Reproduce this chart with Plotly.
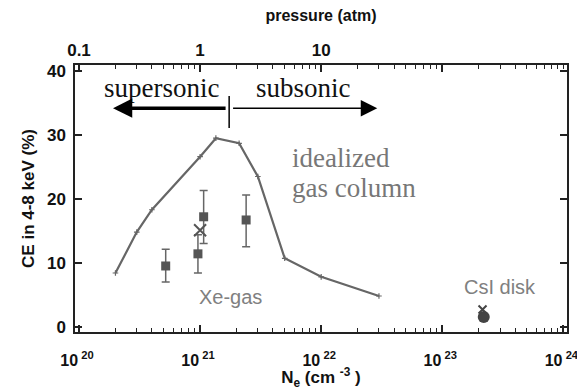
import plotly.graph_objects as go
import numpy as np

# idealized gas column (line)
line_ne = [2e20, 3e20, 4e20, 1e21, 1.35e21, 2.1e21, 3e21, 5e21, 1e22, 3e22]
line_ce = [8.4, 14.8, 18.3, 26.6, 29.5, 28.7, 23.5, 10.7, 7.8, 4.8]

# Xe-gas measurements (squares with error bars)
xe_ne = [5.2e20, 9.6e20, 1.07e21, 2.4e21]
xe_ce = [9.5, 11.4, 17.2, 16.7]
xe_err_plus = [2.6, 3.0, 4.1, 3.9]
xe_err_minus = [2.5, 3.0, 4.2, 4.2]

# X marker
x_ne = [1.0e21]
x_ce = [15.1]

# CsI disk
csi_ne = [2.2e23]
csi_ce = [1.5]
csix_ne = [2.15e23]
csix_ce = [2.7]

# axis ticks
bottom_tickvals = [1e20, 1e21, 1e22, 1e23, 1e24]
bottom_ticktext = ["<b>10</b>\u2009<sup><b>%d</b></sup>" % e for e in (20, 21, 22, 23, 24)]
top_tickvals = [0.1, 1, 10, 100]
top_ticktext = ["<b>0.1</b>", "<b>1</b>", "<b>10</b>", ""]
y_tickvals = [0, 10, 20, 30, 40]

XMIN, XMAX = 19.967, 24.03
FONT = "Liberation Sans, Arial, sans-serif"
SERIF = "Liberation Serif, Times New Roman, serif"

fig = go.Figure()
fig.add_trace(go.Scatter(x=line_ne, y=line_ce, mode="lines+markers",
                         line=dict(color="#666666", width=2.2),
                         marker=dict(symbol="cross-thin-open", size=4, color="#666666",
                                     line=dict(color="#666666", width=1.2)),
                         hoverinfo="skip", showlegend=False))
fig.add_trace(go.Scatter(x=xe_ne, y=xe_ce, mode="markers",
                         marker=dict(symbol="square", size=9, color="#555555"),
                         error_y=dict(type="data", symmetric=False, array=xe_err_plus,
                                      arrayminus=xe_err_minus, color="#666666",
                                      thickness=1.5, width=4),
                         showlegend=False))
fig.add_trace(go.Scatter(x=x_ne, y=x_ce, mode="markers",
                         marker=dict(symbol="x-thin-open", size=12, color="#555555",
                                     line=dict(color="#555555", width=2)),
                         showlegend=False))
fig.add_trace(go.Scatter(x=csi_ne, y=csi_ce, mode="markers",
                         marker=dict(symbol="circle", size=12, color="#444444"),
                         showlegend=False))
fig.add_trace(go.Scatter(x=csix_ne, y=csix_ce, mode="markers",
                         marker=dict(symbol="x-thin-open", size=8, color="#444444",
                                     line=dict(color="#444444", width=2)),
                         showlegend=False))
# pressure axis carrier (invisible)
fig.add_trace(go.Scatter(x=[v / 1e21 for v in line_ne], y=line_ce, xaxis="x2",
                         mode="markers", marker=dict(opacity=0), hoverinfo="skip",
                         showlegend=False))

fig.update_layout(
    width=577, height=390,
    margin=dict(l=75, r=10, t=65, b=58),
    plot_bgcolor="white", paper_bgcolor="white",
    font=dict(family=FONT, size=16, color="#111111"),
    xaxis=dict(type="log", range=[XMIN, XMAX], showline=True, linecolor="#222222",
               linewidth=1.5, mirror=False, ticks="inside", ticklen=7, tickwidth=1.5,
               tickcolor="#222222", tickvals=bottom_tickvals, ticktext=bottom_ticktext,
               showgrid=False, zeroline=False, tickfont=dict(size=16),
               ticklabeloverflow="allow", ticklabelstandoff=13, ticklabelshift=-2,
               automargin=False,
               minor=dict(ticks="inside", ticklen=4, tickwidth=1.2, tickcolor="#222222",
                          dtick="D1", showgrid=False),
               title=dict(text="<b>N<sub>e</sub> (cm <sup>-3</sup> )</b>",
                          font=dict(size=17), standoff=2)),
    xaxis2=dict(type="log", range=[XMIN - 21, XMAX - 21], overlaying="x", side="top",
                showline=True, linecolor="#222222", linewidth=1.5,
                ticks="inside", ticklen=7, tickwidth=1.5, tickcolor="#222222",
                tickvals=top_tickvals, ticktext=top_ticktext, showgrid=False,
                zeroline=False, tickfont=dict(size=17), ticklabelstandoff=0,
                automargin=False,
                minor=dict(ticks="inside", ticklen=4, tickwidth=1.2, tickcolor="#222222",
                           dtick="D1", showgrid=False),
                title=dict(text="<b>pressure (atm)</b>", font=dict(size=16), standoff=16)),
    yaxis=dict(range=[-0.83, 40.95], showline=True, linecolor="#222222", linewidth=1.5,
               mirror="ticks", ticks="inside", ticklen=7, tickwidth=1.5,
               tickcolor="#222222", tickvals=y_tickvals,
               ticktext=["<b>%d</b>" % v for v in y_tickvals],
               showgrid=False, zeroline=False, tickfont=dict(size=17),
               ticklabelstandoff=4, automargin=False,
               title=dict(text="<b>CE in 4-8 keV (%)</b>", font=dict(size=17), standoff=8)),
)

ann = []
# text labels
ann.append(dict(x=20.678, y=37.35, text="supersonic", showarrow=False,
                font=dict(family=SERIF, size=27, color="#111111")))
ann.append(dict(x=21.851, y=37.35, text="subsonic", showarrow=False,
                font=dict(family=SERIF, size=27, color="#111111")))
ann.append(dict(x=21.744, y=26.4, text="idealized", showarrow=False, xanchor="left",
                font=dict(family=SERIF, size=27, color="#777777")))
ann.append(dict(x=21.744, y=21.7, text="gas column", showarrow=False, xanchor="left",
                font=dict(family=SERIF, size=27, color="#777777")))
ann.append(dict(x=21.248, y=4.65, text="Xe-gas", showarrow=False,
                font=dict(family=FONT, size=20, color="#808080")))
ann.append(dict(x=23.479, y=6.2, text="CsI disk", showarrow=False,
                font=dict(family=FONT, size=20, color="#808080")))
# arrows
ann.append(dict(x=20.281, y=34.2, ax=21.223, ay=34.2, xref="x", yref="y",
                axref="x", ayref="y", text="", showarrow=True, arrowhead=2,
                arrowsize=1.1, arrowwidth=3.5, arrowcolor="#000000"))
ann.append(dict(x=22.463, y=34.2, ax=21.26, ay=34.2, xref="x", yref="y",
                axref="x", ayref="y", text="", showarrow=True, arrowhead=2,
                arrowsize=2.2, arrowwidth=1.5, arrowcolor="#000000"))
fig.update_layout(annotations=ann)
fig.add_shape(type="line", xref="x", yref="y", x0=10**21.24, x1=10**21.24,
              y0=31.1, y1=36.1, line=dict(color="#000000", width=1.5))

fig.write_html("out.html")
